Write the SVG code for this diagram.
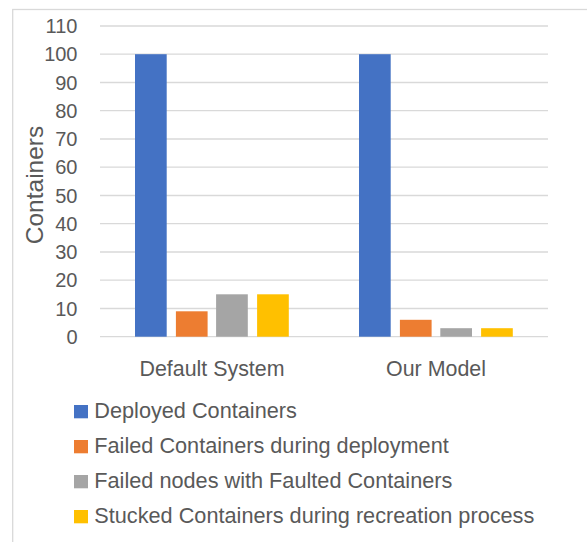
<svg xmlns="http://www.w3.org/2000/svg" width="587" height="542" viewBox="0 0 587 542">
  <style>
    .grid { stroke: #D9D9D9; stroke-width: 1.3; }
    .tick { font-family: "Liberation Sans", Arial, sans-serif; font-size: 20px; fill: #595959; text-anchor: end; }
    .cat { font-family: "Liberation Sans", Arial, sans-serif; font-size: 21.4px; fill: #595959; text-anchor: middle; }
    .title { font-family: "Liberation Sans", Arial, sans-serif; font-size: 24.5px; fill: #595959; text-anchor: middle; }
    .leg { font-family: "Liberation Sans", Arial, sans-serif; font-size: 21.7px; fill: #595959; }
    .s1 { fill: #4472C4; }
    .s2 { fill: #ED7D31; }
    .s3 { fill: #A5A5A5; }
    .s4 { fill: #FFC000; }
  </style>

  <rect x="0" y="0" width="587" height="542" fill="#FFFFFF"/>
  <!-- chart area border -->
  <rect x="12.7" y="9.5" width="600" height="560" fill="none" stroke="#D9D9D9" stroke-width="1.3"/>

  <!-- horizontal gridlines: y = 336.7 - v*2.825 -->
  <g id="gridlines">
    <line class="grid" x1="100" y1="26" x2="548" y2="26"/>
    <line class="grid" x1="100" y1="54.2" x2="548" y2="54.2"/>
    <line class="grid" x1="100" y1="82.5" x2="548" y2="82.5"/>
    <line class="grid" x1="100" y1="110.7" x2="548" y2="110.7"/>
    <line class="grid" x1="100" y1="139" x2="548" y2="139"/>
    <line class="grid" x1="100" y1="167.2" x2="548" y2="167.2"/>
    <line class="grid" x1="100" y1="195.5" x2="548" y2="195.5"/>
    <line class="grid" x1="100" y1="223.7" x2="548" y2="223.7"/>
    <line class="grid" x1="100" y1="252" x2="548" y2="252"/>
    <line class="grid" x1="100" y1="280.2" x2="548" y2="280.2"/>
    <line class="grid" x1="100" y1="308.5" x2="548" y2="308.5"/>
    <line class="grid" x1="100" y1="336.7" x2="548" y2="336.7"/>
  </g>

  <!-- y-axis tick labels -->
  <g id="y-axis">
    <text class="tick" x="77.5" y="33">110</text>
    <text class="tick" x="77.5" y="61.2">100</text>
    <text class="tick" x="77.5" y="89.5">90</text>
    <text class="tick" x="77.5" y="117.7">80</text>
    <text class="tick" x="77.5" y="146">70</text>
    <text class="tick" x="77.5" y="174.2">60</text>
    <text class="tick" x="77.5" y="202.5">50</text>
    <text class="tick" x="77.5" y="230.7">40</text>
    <text class="tick" x="77.5" y="259">30</text>
    <text class="tick" x="77.5" y="287.2">20</text>
    <text class="tick" x="77.5" y="315.5">10</text>
    <text class="tick" x="77.5" y="343.7">0</text>
    <text class="title" transform="translate(42.5,185) rotate(-90)">Containers</text>
  </g>

  <!-- bars: Default System -->
  <g id="default-system">
    <rect class="s1" x="135" y="54.2" width="31.7" height="282.5"/>
    <rect class="s2" x="175.9" y="311.3" width="31.7" height="25.4"/>
    <rect class="s3" x="216.1" y="294.3" width="31.7" height="42.4"/>
    <rect class="s4" x="257.1" y="294.3" width="31.7" height="42.4"/>
    <text class="cat" x="212" y="376">Default System</text>
  </g>

  <!-- bars: Our Model -->
  <g id="our-model">
    <rect class="s1" x="359" y="54.2" width="31.7" height="282.5"/>
    <rect class="s2" x="399.9" y="319.8" width="31.7" height="16.9"/>
    <rect class="s3" x="440.3" y="328.2" width="31.7" height="8.5"/>
    <rect class="s4" x="481.1" y="328.2" width="31.7" height="8.5"/>
    <text class="cat" x="436" y="376">Our Model</text>
  </g>

  <!-- legend -->
  <g id="legend">
    <rect class="s1" x="74" y="405" width="14" height="13.3"/>
    <text class="leg" x="94.3" y="418.3">Deployed Containers</text>
    <rect class="s2" x="74" y="440" width="14" height="13.3"/>
    <text class="leg" x="94.3" y="453.3">Failed Containers during deployment</text>
    <rect class="s3" x="74" y="475" width="14" height="13.3"/>
    <text class="leg" x="94.3" y="488.3">Failed nodes with Faulted Containers</text>
    <rect class="s4" x="74" y="510" width="14" height="13.3"/>
    <text class="leg" x="94.3" y="523.3">Stucked Containers during recreation process</text>
  </g>
</svg>
